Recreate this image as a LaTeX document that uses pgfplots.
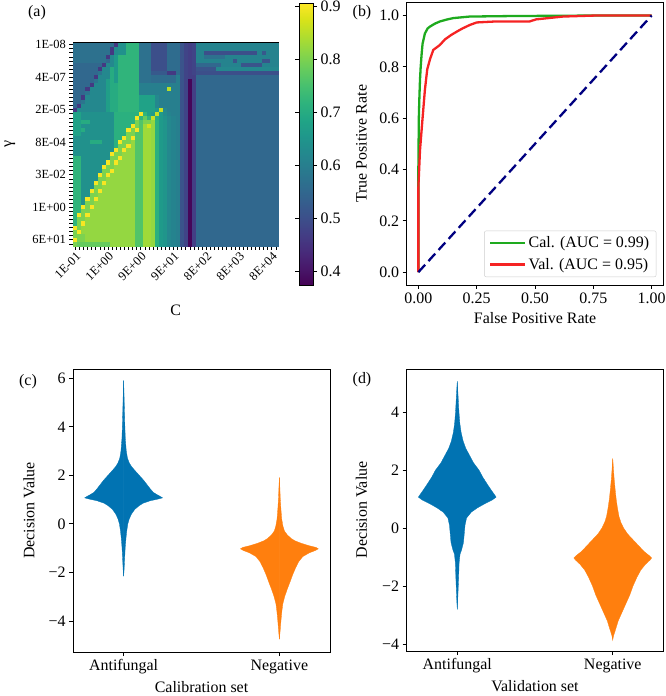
\documentclass[border=0pt]{standalone}
\usepackage{fontspec}
\setmainfont{Liberation Serif}
\usepackage{pgfplots}
\pgfplotsset{compat=1.18}
\usepackage{pgfplotstable}
\definecolor{vblue}{RGB}{1,115,178}
\definecolor{vorange}{RGB}{255,127,14}
\definecolor{rocgreen}{RGB}{30,170,30}
\definecolor{rocred}{RGB}{245,35,35}
\definecolor{rocnavy}{RGB}{0,0,128}
\newcommand\fa{\fontsize{16}{19}\selectfont}
\newcommand\fb{\fontsize{12.5}{14}\selectfont}

\pgfplotstableread[header=false]{
57 57 57 57 57 57 57 57 57 57 46 64 64 72 72 72 57 57 57 50 50 50 50 56 56 56 51 48 47 48 61 61 61 61 61 61 61 61 61 61 61 61 61 61 61 61 61 61 61 61
57 57 57 57 57 57 57 57 57 46 63 64 64 72 72 72 57 57 57 50 50 50 50 56 56 56 51 48 47 48 61 61 61 61 61 61 61 61 61 61 61 61 61 61 61 61 61 61 61 61
57 57 57 57 57 57 57 57 57 46 63 64 64 72 72 72 57 57 57 50 50 50 50 56 56 56 51 48 47 48 61 61 50 50 50 50 50 50 50 50 50 50 50 50 50 61 52 61 61 61
57 57 57 57 57 57 57 57 46 62 66 72 72 72 72 72 57 57 57 50 50 50 50 56 56 56 51 48 47 48 61 61 57 57 57 57 57 61 61 61 61 61 61 61 61 61 61 61 61 61
57 57 57 57 57 57 57 57 55 62 66 72 72 72 72 72 57 57 57 50 50 50 50 56 56 56 51 48 47 48 61 61 61 61 61 61 61 61 61 51 61 61 61 61 61 61 51 51 61 61
55 55 55 55 55 55 55 46 62 62 66 72 72 72 72 72 57 57 57 50 50 50 50 56 56 56 51 48 47 48 55 55 55 55 55 55 61 61 61 61 61 51 51 51 51 51 61 61 61 61
55 55 55 55 55 55 46 62 62 70 66 72 72 72 72 72 57 57 57 50 50 50 50 56 56 56 51 48 47 48 51 51 51 51 51 62 62 62 62 62 62 62 62 62 62 62 62 62 62 62
55 55 55 55 55 55 58 62 62 70 66 72 72 72 72 72 57 57 57 52 52 52 52 46 46 56 51 48 47 48 50 50 50 50 50 50 50 50 50 50 50 50 50 50 50 50 50 50 50 50
55 55 55 55 55 46 62 62 62 70 66 72 72 72 72 72 57 57 57 56 56 56 56 56 56 60 51 48 47 47 55 55 55 55 55 55 55 55 55 55 55 55 55 55 55 55 55 55 55 55
55 55 55 55 55 58 62 62 67 70 66 72 72 72 72 72 57 57 57 56 56 56 56 56 56 60 51 48 38 47 55 55 55 55 55 55 55 55 55 55 55 55 55 55 55 55 55 55 55 55
55 55 55 55 46 62 62 62 67 70 70 72 72 72 72 72 60 60 60 60 60 60 60 60 60 60 51 48 38 47 55 55 55 55 55 55 55 55 55 55 55 55 55 55 55 55 55 55 55 55
55 55 55 46 62 62 62 62 67 70 70 72 72 72 72 72 60 60 60 60 60 60 60 85 60 60 51 48 38 47 55 55 55 55 55 55 55 55 55 55 55 55 55 55 55 55 55 55 55 55
55 55 55 58 62 62 62 62 67 70 70 72 72 72 72 72 60 60 60 60 60 60 60 60 60 60 51 48 38 47 55 55 55 55 55 55 55 55 55 55 55 55 55 55 55 55 55 55 55 55
55 55 46 62 62 62 62 62 67 70 70 72 72 72 72 72 68 68 68 68 62 60 60 60 60 60 51 48 38 47 55 55 55 55 55 55 55 55 55 55 55 55 55 55 55 55 55 55 55 55
55 55 58 62 62 62 62 62 67 70 70 72 72 72 72 72 68 68 68 68 62 60 60 60 60 60 51 48 38 47 55 55 55 55 55 55 55 55 55 55 55 55 55 55 55 55 55 55 55 55
55 46 62 62 62 62 62 62 67 70 70 72 72 72 72 72 68 68 68 68 62 60 60 60 60 60 51 48 38 47 55 55 55 55 55 55 55 55 55 55 55 55 55 55 55 55 55 55 55 55
46 62 62 62 62 62 62 62 67 70 70 72 72 72 72 72 68 68 68 68 66 86 62 60 60 60 51 48 38 47 55 55 55 55 55 55 55 55 55 55 55 55 55 55 55 55 55 55 55 55
68 68 64 64 64 64 64 64 64 64 71 71 71 71 71 71 90 72 68 66 86 66 63 61 60 60 51 48 38 47 55 55 55 55 55 55 55 55 55 55 55 55 55 55 55 55 55 55 55 55
68 68 64 64 64 64 64 64 64 64 71 71 71 71 71 90 72 78 72 86 70 66 64 62 61 60 51 48 38 47 55 55 55 55 55 55 55 55 55 55 55 55 55 55 55 55 55 55 55 55
68 68 70 70 64 64 64 64 64 64 71 71 71 71 71 80 76 80 80 82 71 66 65 62 61 60 51 48 38 47 55 55 55 55 55 55 55 55 55 55 55 55 55 55 55 55 55 55 55 55
68 68 64 64 64 64 64 64 64 64 71 71 71 71 90 80 76 83 87 82 71 66 65 62 61 60 51 48 38 47 55 55 55 55 55 55 55 55 55 55 55 55 55 55 55 55 55 55 55 55
68 68 70 64 64 64 64 64 64 64 71 71 71 90 80 90 76 83 83 82 71 66 65 62 61 60 51 48 38 47 55 55 55 55 55 55 55 55 55 55 55 55 55 55 55 55 55 55 55 55
68 68 64 64 64 64 64 64 64 64 71 71 71 80 80 76 76 83 83 82 71 66 65 62 61 60 51 48 38 47 55 55 55 55 55 55 55 55 55 55 55 55 55 55 55 55 55 55 55 55
64 64 64 64 64 64 64 64 64 64 71 71 90 80 90 76 76 83 83 82 71 66 65 62 61 60 51 48 38 47 55 55 55 55 55 55 55 55 55 55 55 55 55 55 55 55 55 55 55 55
64 64 64 64 70 70 70 64 64 64 71 90 80 80 82 76 76 83 83 82 71 66 65 62 61 60 51 48 38 47 55 55 55 55 55 55 55 55 55 55 55 55 55 55 55 55 55 55 55 55
64 64 64 64 64 64 64 64 64 64 71 80 80 90 82 76 76 83 83 82 71 66 65 62 61 60 51 48 38 47 55 55 55 55 55 55 55 55 55 55 55 55 55 55 55 55 55 55 55 55
64 64 64 64 64 64 64 64 64 64 90 80 90 82 82 76 76 83 83 82 71 66 65 62 61 60 51 48 38 47 55 55 55 55 55 55 55 55 55 55 55 55 55 55 55 55 55 55 55 55
64 64 64 64 64 64 64 64 64 90 80 80 82 82 82 76 76 83 83 82 71 66 65 62 61 60 51 48 38 47 55 55 55 55 55 55 55 55 55 55 55 55 55 55 55 55 55 55 55 55
72 72 64 64 64 64 64 64 64 80 80 90 82 82 82 76 76 83 83 82 71 66 65 62 61 60 51 48 38 47 55 55 55 55 55 55 55 55 55 55 55 55 55 55 55 55 55 55 55 55
72 72 64 64 64 64 64 64 90 80 90 82 82 82 82 76 76 83 83 82 71 66 65 62 61 60 51 48 38 47 55 55 55 55 55 55 55 55 55 55 55 55 55 55 55 55 55 55 55 55
72 72 64 64 64 64 64 90 80 80 82 82 82 82 82 76 76 83 83 82 71 66 65 62 61 60 51 48 38 47 55 55 55 55 55 55 55 55 55 55 55 55 55 55 55 55 55 55 55 55
72 72 64 64 64 64 64 80 80 90 82 82 82 82 82 76 76 83 83 82 71 66 65 62 61 60 51 48 38 47 55 55 55 55 55 55 55 55 55 55 55 55 55 55 55 55 55 55 55 55
72 72 64 64 64 64 90 80 90 82 82 82 82 82 82 76 76 83 83 82 71 66 65 62 61 60 51 48 38 47 55 55 55 55 55 55 55 55 55 55 55 55 55 55 55 55 55 55 55 55
72 72 64 64 64 64 80 80 82 82 82 82 82 82 82 76 76 83 83 82 71 66 65 62 61 60 51 48 38 47 55 55 55 55 55 55 55 55 55 55 55 55 55 55 55 55 55 55 55 55
72 72 64 64 64 90 80 90 82 82 82 82 82 82 82 76 76 83 83 82 71 66 65 62 61 60 51 48 38 47 55 55 55 55 55 55 55 55 55 55 55 55 55 55 55 55 55 55 55 55
72 72 64 64 64 80 80 82 82 82 82 82 82 82 82 76 76 83 83 82 71 66 65 62 61 60 51 48 38 47 55 55 55 55 55 55 55 55 55 55 55 55 55 55 55 55 55 55 55 55
72 72 64 64 90 80 90 82 82 82 82 82 82 82 82 76 76 83 83 82 71 66 65 62 61 60 51 48 38 47 55 55 55 55 55 55 55 55 55 55 55 55 55 55 55 55 55 55 55 55
72 72 64 64 80 80 82 82 82 82 82 82 82 82 82 76 76 83 83 82 71 66 65 62 61 60 51 48 38 47 55 55 55 55 55 55 55 55 55 55 55 55 55 55 55 55 55 55 55 55
72 72 64 90 80 90 82 82 82 82 82 82 82 82 82 76 76 83 83 82 71 66 65 62 61 60 51 48 38 47 55 55 55 55 55 55 55 55 55 55 55 55 55 55 55 55 55 55 55 55
72 72 64 80 80 82 82 82 82 82 82 82 82 82 82 76 76 83 83 82 71 66 65 62 61 60 51 48 38 47 55 55 55 55 55 55 55 55 55 55 55 55 55 55 55 55 55 55 55 55
72 72 90 80 90 82 82 82 82 82 82 82 82 82 82 76 76 83 83 82 71 66 65 62 61 60 51 48 38 47 55 55 55 55 55 55 55 55 55 55 55 55 55 55 55 55 55 55 55 55
72 72 80 80 82 82 82 82 82 82 82 82 82 82 82 76 76 83 83 82 71 66 65 62 61 60 51 48 38 47 55 55 55 55 55 55 55 55 55 55 55 55 55 55 55 55 55 55 55 55
72 90 80 90 82 82 82 82 82 82 82 82 82 82 82 76 76 83 83 82 71 66 65 62 61 60 51 48 38 47 55 55 55 55 55 55 55 55 55 55 55 55 55 55 55 55 55 55 55 55
72 80 80 82 82 82 82 82 82 82 82 82 82 82 82 76 76 83 83 82 71 66 65 62 61 60 51 48 38 47 55 55 55 55 55 55 55 55 55 55 55 55 55 55 55 55 55 55 55 55
72 80 90 82 82 82 82 82 82 82 82 82 82 82 82 76 76 83 83 82 71 66 65 62 61 60 51 48 38 47 55 55 55 55 55 55 55 55 55 55 55 55 55 55 55 55 55 55 55 55
90 80 82 82 82 82 82 82 82 82 82 82 82 82 82 76 76 83 83 82 71 66 65 62 61 60 51 48 38 47 55 55 55 55 55 55 55 55 55 55 55 55 55 55 55 55 55 55 55 55
80 90 82 82 82 82 82 82 82 82 82 82 82 82 82 76 76 83 83 82 71 66 65 62 61 60 51 48 38 47 55 55 55 55 55 55 55 55 55 55 55 55 55 55 55 55 55 55 55 55
80 80 80 82 82 82 82 82 82 82 82 82 82 82 82 76 76 83 83 82 71 66 65 62 61 60 51 48 38 47 55 55 55 55 55 55 55 55 55 55 55 55 55 55 55 55 55 55 55 55
90 80 80 82 82 82 82 82 82 82 82 82 82 82 82 76 76 83 83 82 71 66 65 62 61 60 51 48 38 47 55 55 55 55 55 55 55 55 55 55 55 55 55 55 55 55 55 55 55 55
80 78 78 78 78 78 78 78 78 82 82 82 82 82 82 76 76 83 83 82 71 66 65 62 61 60 51 48 38 47 55 55 55 55 55 55 55 55 55 55 55 55 55 55 55 55 55 55 55 55
}\heat

\pgfplotstableread{
y w
-2.15 0
-1.9 0.003
-1.5 0.006
-1.0 0.010
-0.6 0.015
-0.3 0.020
0.0 0.027
0.2 0.036
0.4 0.050
0.6 0.072
0.75 0.100
0.85 0.125
0.95 0.170
1.02 0.220
1.07 0.250
1.12 0.238
1.2 0.215
1.3 0.190
1.45 0.170
1.6 0.152
1.8 0.128
2.0 0.100
2.2 0.072
2.35 0.052
2.5 0.037
2.7 0.025
3.0 0.017
3.5 0.011
4.0 0.008
4.5 0.006
5.0 0.004
5.5 0.002
5.9 0
}\vcA

\pgfplotstableread{
y w
-4.75 0
-4.4 0.005
-4.0 0.010
-3.6 0.016
-3.3 0.022
-3.0 0.034
-2.7 0.050
-2.4 0.068
-2.1 0.085
-1.8 0.105
-1.55 0.125
-1.35 0.150
-1.2 0.190
-1.1 0.230
-1.03 0.250
-0.97 0.235
-0.9 0.190
-0.8 0.140
-0.7 0.100
-0.6 0.075
-0.45 0.050
-0.3 0.033
-0.1 0.023
0.2 0.015
0.6 0.010
1.0 0.006
1.5 0.003
1.9 0
}\vcN

\pgfplotstableread{
y w
-2.8 0
-2.5 0.003
-2.1 0.006
-1.7 0.009
-1.2 0.012
-0.9 0.018
-0.75 0.028
-0.5 0.040
-0.2 0.045
0.1 0.050
0.35 0.060
0.55 0.090
0.7 0.130
0.85 0.180
0.97 0.225
1.07 0.250
1.15 0.240
1.3 0.220
1.5 0.195
1.75 0.165
2.0 0.140
2.25 0.105
2.5 0.080
2.75 0.055
3.0 0.038
3.3 0.025
3.6 0.017
4.0 0.011
4.4 0.007
4.8 0.003
5.06 0
}\vdA

\pgfplotstableread{
y w
-3.85 0
-3.7 0.006
-3.5 0.018
-3.2 0.035
-2.9 0.060
-2.6 0.085
-2.3 0.110
-2.0 0.130
-1.7 0.155
-1.45 0.180
-1.25 0.210
-1.1 0.240
-1.03 0.250
-0.95 0.235
-0.8 0.200
-0.6 0.165
-0.4 0.130
-0.2 0.095
0.0 0.070
0.2 0.052
0.4 0.040
0.7 0.030
1.0 0.022
1.3 0.016
1.7 0.009
2.0 0.005
2.4 0
}\vdN

\pgfplotsset{
  base/.style={
    scale only axis,
    axis line style={line width=0.8bp},
    tick style={line width=0.8bp, black},
    major tick length=4bp, minor tick length=4bp,
    tick align=outside,
    xtick pos=bottom, ytick pos=left,
    tick label style={font=\fa},
    label style={font=\fa},
  },
  vhalf/.style={fill=#1, draw=#1, line width=0.3bp},
}

\begin{document}
\begin{tikzpicture}
\path[use as bounding box] (0,0) rectangle (666bp,696bp);

% (a) heatmap
\begin{axis}[base,
  at={(73.3bp,450bp)}, anchor=south west,
  width=204.7bp, height=203.3bp,
  xmin=-0.5, xmax=49.5, ymin=-0.5, ymax=49.5, y dir=reverse,
  axis on top,
  xtick={0,8,16,24,32,40,48},
  xticklabels={1E-01,1E+00,9E+00,9E+01,8E+02,8E+03,8E+04},
  minor xtick={0,...,49},
  ytick={0,8,16,24,32,40,48},
  yticklabels={1E-08,4E-07,2E-05,8E-04,3E-02,1E+00,6E+01},
  minor ytick={0,...,49},
  tick label style={font=\fb},
  xticklabel style={rotate=45, anchor=north east, inner sep=1bp},
  xlabel={C}, ylabel={γ},
  xlabel style={at={(axis description cs:0.5,-0.315)}, anchor=center},
  ylabel style={at={(axis description cs:-0.31,0.5)}, anchor=center},
  colormap/viridis,
  point meta min=37.3, point meta max=90.5,
  colorbar,
  colorbar style={
    scale only axis,
    width=14bp, height=282bp,
    at={(parent axis.east)}, anchor=west, xshift=12.7bp,
    ytick={40,50,60,70,80,90},
    yticklabels={0.4,0.5,0.6,0.7,0.8,0.9},
    minor ytick={},
    tick label style={font=\fa},
    major tick length=4bp, tick align=outside,
    tick style={line width=0.8bp, black},
    axis line style={line width=0.8bp},
  },
]
\pgfplotsinvokeforeach{0,...,49}{
  \addplot[scatter, only marks, mark=square*, mark size=2.0bp,
    point meta=explicit,
    scatter/use mapped color={draw=mapped color, fill=mapped color},
    mark options={line width=0.3bp}]
    table[x expr=#1, y expr=\coordindex, meta index=#1] {\heat};
}
\end{axis}

% (b) ROC
\begin{axis}[base,
  at={(406.7bp,411bp)}, anchor=south west,
  width=256.6bp, height=282.3bp,
  xmin=-0.05, xmax=1.05, ymin=-0.05, ymax=1.05,
  xtick={0,0.25,0.5,0.75,1}, xticklabels={0.00,0.25,0.50,0.75,1.00},
  ytick={0,0.2,0.4,0.6,0.8,1}, yticklabels={0.0,0.2,0.4,0.6,0.8,1.0},
  xlabel={False Positive Rate}, ylabel={True Positive Rate},
  xlabel style={at={(axis description cs:0.5,-0.117)}, anchor=center},
  ylabel style={at={(axis description cs:-0.176,0.5)}, anchor=center},
  legend style={font=\fa, draw=black!20, rounded corners=2bp,
    at={(0.973,0.028)}, anchor=south east, inner xsep=5bp, inner ysep=4bp,
    row sep=5bp},
  legend cell align=left,
  legend image code/.code={\draw[#1, line width=2.3bp] (0bp,0bp) -- (35bp,0bp);},
]
\addplot[rocgreen, line width=2.3bp] coordinates {
(0,0) (0,0.4) (0.002,0.6) (0.004,0.67) (0.007,0.75) (0.01,0.8) (0.014,0.85)
(0.018,0.89) (0.028,0.93) (0.04,0.95) (0.05,0.957) (0.07,0.968) (0.093,0.977)
(0.12,0.984) (0.15,0.99) (0.22,0.996) (0.4,0.998) (0.6,0.999) (0.76,1) (1,1)};
\addlegendentry{Cal. (AUC = 0.99)}
\addplot[rocred, line width=2.3bp] coordinates {
(0,0) (0,0.33) (0.007,0.475) (0.018,0.6) (0.028,0.71) (0.038,0.79) (0.05,0.83)
(0.064,0.866) (0.092,0.885) (0.114,0.907) (0.142,0.925) (0.17,0.94) (0.19,0.95)
(0.22,0.963) (0.25,0.973) (0.334,0.977) (0.477,0.977) (0.505,0.985) (0.62,0.996)
(0.76,1) (1,1)};
\addlegendentry{Val. (AUC = 0.95)}
\addplot[rocnavy, line width=2.3bp, dash pattern=on 10bp off 5bp, forget plot]
  coordinates {(0,0) (1,1)};
\end{axis}

% (c) violins calibration
\begin{axis}[base,
  at={(73bp,44bp)}, anchor=south west,
  width=257bp, height=283bp,
  xmin=-0.325, xmax=1.325, ymin=-5.28, ymax=6.38,
  xtick={0,1}, xticklabels={Antifungal,Negative},
  ytick={-4,-2,0,2,4,6}, yticklabels={−4,−2,0,2,4,6},
  xlabel={Calibration set}, ylabel={Decision Value},
  xlabel style={at={(axis description cs:0.5,-0.123)}, anchor=center},
  ylabel style={at={(axis description cs:-0.171,0.5)}, anchor=center},
]
\addplot[vhalf=vblue] table[x expr=\thisrow{w}, y=y] {\vcA} -- cycle;
\addplot[vhalf=vblue] table[x expr=-\thisrow{w}, y=y] {\vcA} -- cycle;
\addplot[vhalf=vorange] table[x expr=1+\thisrow{w}, y=y] {\vcN} -- cycle;
\addplot[vhalf=vorange] table[x expr=1-\thisrow{w}, y=y] {\vcN} -- cycle;
\end{axis}

% (d) violins validation
\begin{axis}[base,
  at={(406.7bp,45bp)}, anchor=south west,
  width=256.6bp, height=282bp,
  xmin=-0.325, xmax=1.325, ymin=-4.24, ymax=5.49,
  xtick={0,1}, xticklabels={Antifungal,Negative},
  ytick={-4,-2,0,2,4}, yticklabels={−4,−2,0,2,4},
  xlabel={Validation set}, ylabel={Decision Value},
  xlabel style={at={(axis description cs:0.5,-0.126)}, anchor=center},
  ylabel style={at={(axis description cs:-0.176,0.5)}, anchor=center},
]
\addplot[vhalf=vblue] table[x expr=\thisrow{w}, y=y] {\vdA} -- cycle;
\addplot[vhalf=vblue] table[x expr=-\thisrow{w}, y=y] {\vdA} -- cycle;
\addplot[vhalf=vorange] table[x expr=1+\thisrow{w}, y=y] {\vdN} -- cycle;
\addplot[vhalf=vorange] table[x expr=1-\thisrow{w}, y=y] {\vdN} -- cycle;
\end{axis}

\node[font=\fa] at (37bp,683bp) {(a)};
\node[font=\fa] at (362bp,683bp) {(b)};
\node[font=\fa] at (28bp,314bp) {(c)};
\node[font=\fa] at (362bp,316bp) {(d)};
\end{tikzpicture}
\end{document}
